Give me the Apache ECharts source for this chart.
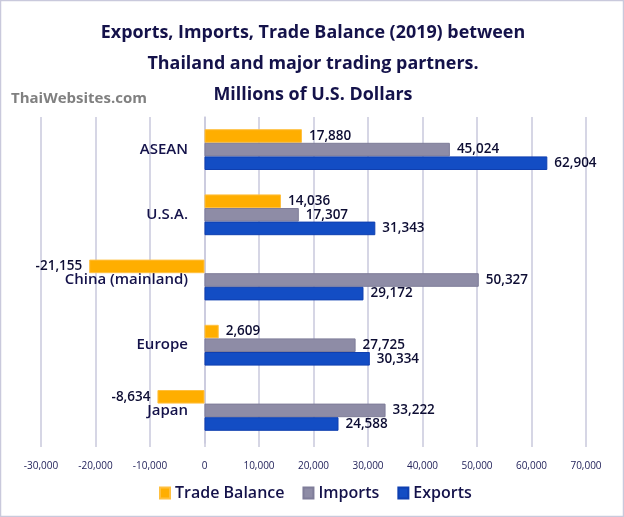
<!DOCTYPE html>
<html><head><meta charset="utf-8">
<style>html,body{margin:0;padding:0;background:#fff}#c{width:624px;height:517px}</style>
<script src="https://cdn.jsdelivr.net/npm/echarts@6/dist/echarts.min.js"></script>
</head><body><div id="c"></div>
<script>
const categories = ['ASEAN','U.S.A.','China (mainland)','Europe','Japan'];
const tradeBalance = [17880,14036,-21155,2609,-8634];
const imports = [45024,17307,50327,27725,33222];
const exportsData = [62904,31343,29172,30334,24588];
const ink = '#14124a';
const font = '"Open Sans"';
const fmt = v => Math.abs(v).toString().replace(/\B(?=(\d{3})+$)/g,',');
const signed = v => (v<0?'-':'')+fmt(v);
const mk = (name,data,color,border) => ({
  name, type:'bar', barWidth:13.6, barGap:'0%',
  data:data.map(v=>v<0?{value:v,label:{position:'left'}}:v),
  itemStyle:{color,borderColor:border,borderWidth:1},
  label:{show:true,position:'right',distance:7,color:'#0d0d33',fontFamily:font,fontSize:13.5,fontWeight:600,
    formatter:p=>signed(p.value)}
});
const chart = echarts.init(document.getElementById('c'),null,{renderer:'canvas'});
chart.setOption({
  animation:false,
  backgroundColor:'#fff',
  title:{text:'Exports, Imports, Trade Balance (2019) between\nThailand and major trading partners.\nMillions of U.S. Dollars',
    left:308,top:12,textAlign:'center',
    textStyle:{color:ink,fontFamily:font,fontSize:17.9,fontWeight:700,lineHeight:31}},
  graphic:[
    {type:'rect',silent:true,z:-1,shape:{x:0.5,y:0.5,width:623,height:516},style:{fill:'none',stroke:'#c9c9dc',lineWidth:1.5}},
    {type:'text',left:11,top:91,silent:true,style:{text:'ThaiWebsites.com',fill:'#808080',font:'700 15px "Open Sans"'}}
  ],
  legend:{bottom:11,left:154,itemWidth:10,itemHeight:11,itemGap:18,icon:'rect',
    data:['Trade Balance','Imports','Exports'],
    textStyle:{color:ink,fontFamily:font,fontSize:16,fontWeight:600}},
  grid:{left:41,right:38,top:117,bottom:74,outerBoundsMode:'none'},
  xAxis:{type:'value',min:-30000,max:70000,interval:10000,
    axisLine:{show:false},
    axisTick:{show:true,length:4,lineStyle:{color:'#c9c9dc',width:1.5}},
    splitLine:{lineStyle:{color:'#c9c9dc',width:1.5}},
    axisLabel:{color:'#24245c',fontFamily:font,fontSize:10,margin:18,formatter:v=>signed(v)}},
  yAxis:{type:'category',inverse:true,data:categories,
    axisLine:{show:true,onZero:true,lineStyle:{color:'#c9c9dc',width:1.5}},axisTick:{show:false},
    axisLabel:{color:ink,fontFamily:font,fontSize:15,fontWeight:600,margin:-147}},
  series:[
    mk('Trade Balance',tradeBalance,'#ffae00','#ffc040'),
    mk('Imports',imports,'#8e8ca6','#7f7d99'),
    mk('Exports',exportsData,'#134dc4','#0f3fb0')
  ]
});
</script></body></html>
